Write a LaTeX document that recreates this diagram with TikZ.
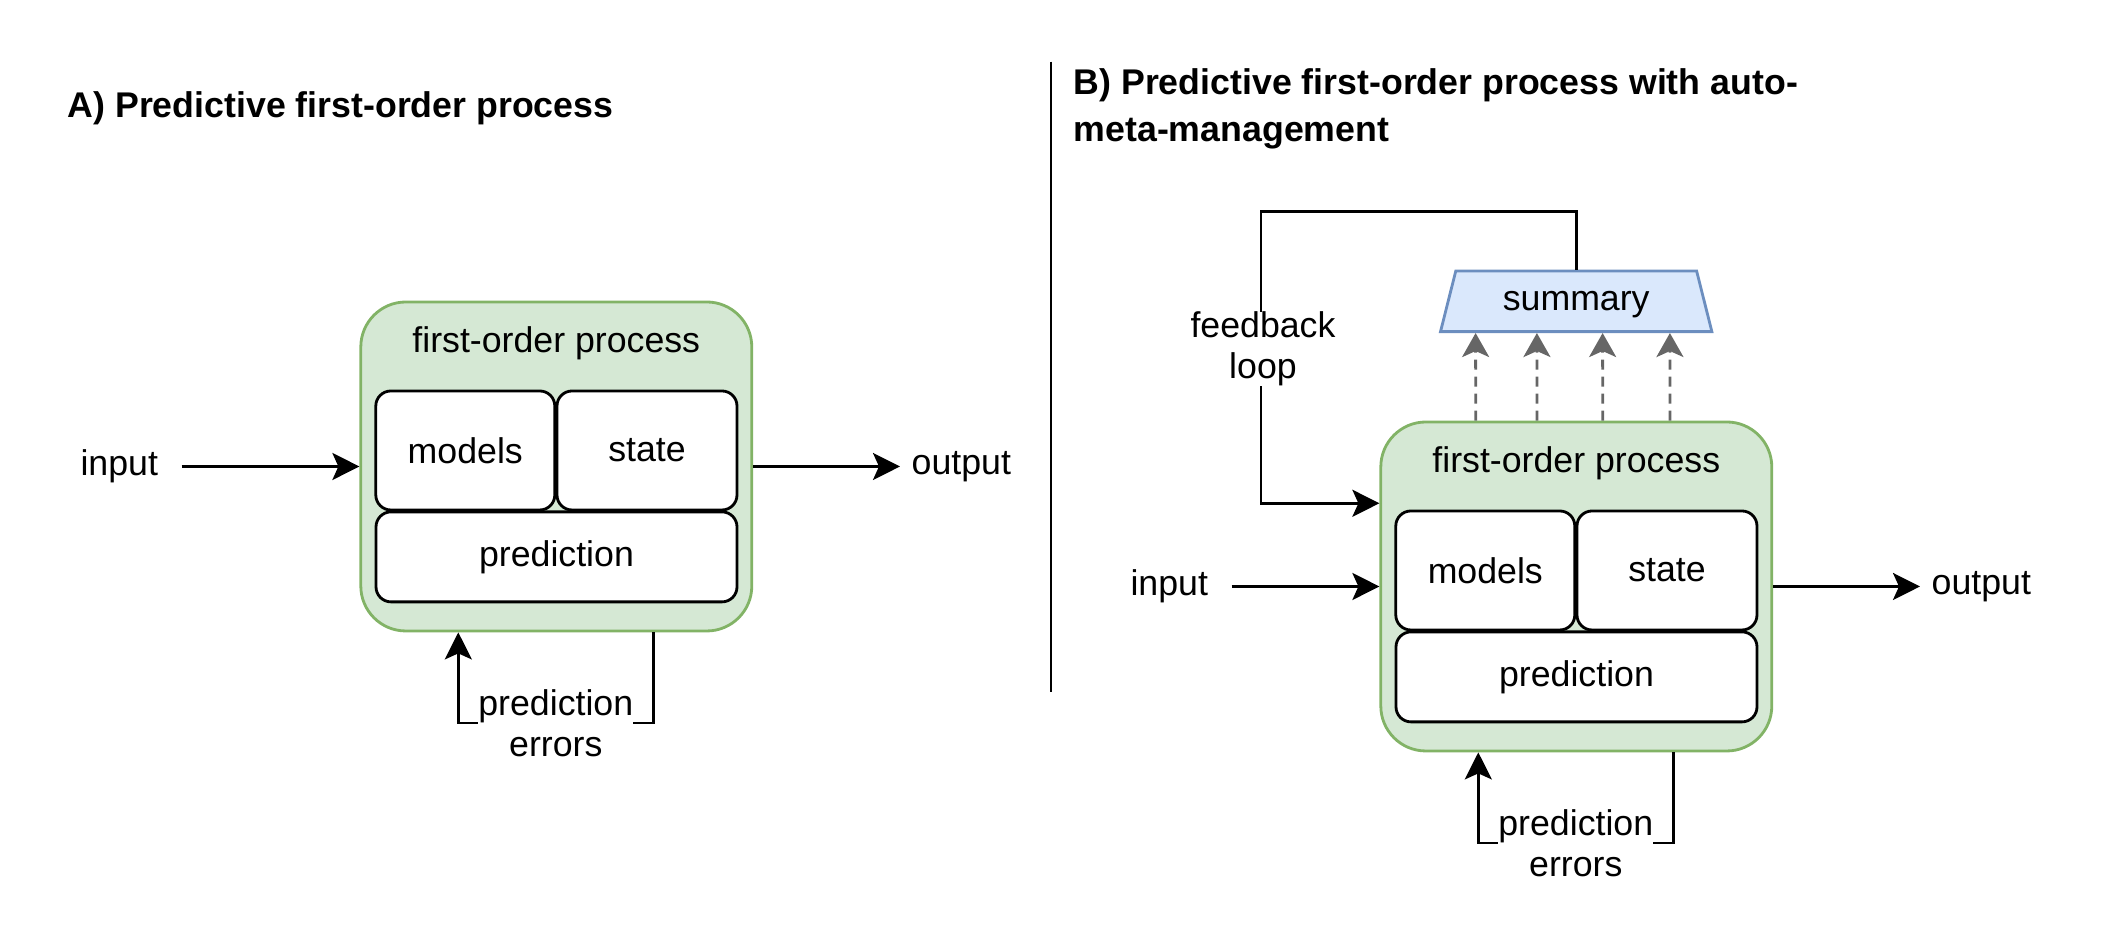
\documentclass[tikz,border=0pt]{standalone}
\usepackage{fontspec}
\setmainfont{Liberation Sans}
\usetikzlibrary{arrows.meta,shapes.geometric}
\definecolor{processfill}{HTML}{D5E8D4}
\definecolor{processline}{HTML}{82B366}
\definecolor{summaryfill}{HTML}{DAE8FC}
\definecolor{summaryline}{HTML}{6C8EBF}
\definecolor{probegray}{HTML}{666666}

\begin{document}
\begin{tikzpicture}[x=1cm,y=1cm,font=\fontsize{10.16}{11.8}\selectfont,
  process/.style={draw=processline,fill=processfill,line width=0.8pt,rounded corners=0.45cm,
    minimum width=3.91cm,minimum height=3.29cm,inner sep=0pt},
  part/.style={draw=black,fill=white,line width=0.8pt,rounded corners=0.15cm,
    minimum height=1.19cm,inner sep=0pt},
  flow/.style={draw=black,line width=0.8pt,-{Stealth[length=2.7mm,width=2.7mm,inset=0.6mm]}},
  probe/.style={draw=probegray,line width=0.8pt,dash pattern=on 1mm off 0.7mm,
    -{Stealth[length=2.4mm,width=2.7mm,inset=0.6mm]}},
  tag/.style={fill=white,inner sep=0pt,align=center},
  heading/.style={anchor=west,inner sep=0pt,align=left,font=\fontsize{10.16}{13.4}\selectfont\bfseries}]
  \useasboundingbox (0,0) rectangle (21.03,9.39);

  \node[heading] (titleA) at (0.67,8.31) {A) Predictive first-order process};
  \node[heading] (titleB) at (10.73,8.297) {B) Predictive first-order process with auto-\\meta-management};
  \draw[line width=0.8pt] (10.51,8.773) -- (10.51,2.473);

  \foreach \p/\xshift/\yshift/\inx in {A/0/0/1.817,B/10.2/-1.2/2.117} {
    \begin{scope}[xshift=\xshift cm,yshift=\yshift cm]
      \node[process] (\p-box) at (5.563,4.725) {};
      \node[anchor=base] (\p-head) at (5.563,5.863) {first-order process};
      \node[part,minimum width=1.79cm] (\p-models) at (4.653,4.885) {models};
      \node[part,minimum width=1.80cm] (\p-state) at (6.470,4.885) {state};
      \node[part,minimum width=3.61cm,minimum height=0.90cm] (\p-pred) at (5.565,3.821) {prediction};
      \node[anchor=east,inner xsep=0.23cm] (\p-in) at (\inx,4.725) {input};
      \node[anchor=west,inner xsep=0.11cm] (\p-out) at (9.00,4.725) {output};
      \draw[flow] (\p-in.east) -- (\p-box.west);
      \draw[flow] (\p-box.east) -- (\p-out.west);
      \draw[flow] ([xshift=0.97cm]\p-box.south) -- ++(0,-0.907)
        -| node[tag,pos=0.25] (\p-err) {prediction\\errors} ([xshift=-0.98cm]\p-box.south);
    \end{scope}
  }

  % summary of the first-order process, fed back into it
  \node[trapezium,trapezium left angle=63,trapezium right angle=63,trapezium stretches=true,
    minimum width=2.72cm,minimum height=0.607cm,inner sep=0pt,text height=0.52em,text depth=0pt,
    draw=summaryline,fill=summaryfill,line width=0.8pt] (sum) at (15.762,6.377) {summary};
  \foreach \dx in {-1.006,-0.393,0.264,0.937}
    \draw[probe] ([xshift=\dx cm]B-box.north) -- ([xshift=\dx cm]sum.south);
  \coordinate (fbturn) at (12.61,7.273);
  \draw[flow] (sum.north) |- (fbturn) |- ([yshift=0.832cm]B-box.west);
  \node[tag] (fb) at (12.63,5.90) {feedback\\loop};
\end{tikzpicture}
\end{document}
